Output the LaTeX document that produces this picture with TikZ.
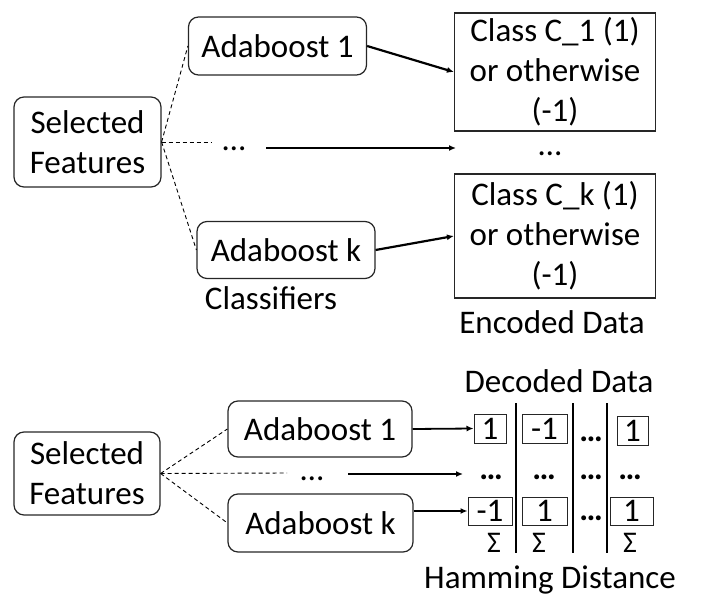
\documentclass[tikz,border=0pt]{standalone}
\usepackage{fontspec}
\setmainfont{Carlito}
\usetikzlibrary{arrows.meta}
\newcommand{\bigf}{\fontsize{33}{40}\selectfont}
\newcommand{\sigf}{\fontsize{30}{32}\selectfont}
\begin{document}
\begin{tikzpicture}[x=1pt,y=-1pt,
  rbox/.style={draw=black!85, rounded corners=10pt, line width=1.2pt, align=center, inner sep=0pt, font=\bigf},
  sbox/.style={draw=black!85, line width=1.2pt, align=center, inner sep=0pt, font=\bigf},
  nbox/.style={draw=black!85, line width=1pt, inner sep=0pt, font=\bigf},
  lbl/.style={inner sep=0pt, font=\bigf},
  ldots/.style={inner sep=0pt, font=\bigf, anchor=base},
  dashline/.style={draw, line width=0.9pt, dash pattern=on 4pt off 3pt},
  arr/.style={draw, line width=2.2pt, -{Latex[length=7pt,width=6pt]}},
  bdots/.style={inner sep=0pt, font=\bigf\bfseries, anchor=base},
  sig/.style={inner sep=0pt, font=\sigf}]
\useasboundingbox (0,0) rectangle (706,601);
% ---------- top part ----------
\node[rbox, minimum width=147pt, minimum height=90pt] (sf1) at (87.5,142) {Selected\\Features};
\node[rbox, minimum width=178pt, minimum height=58pt] (ada1) at (277.5,46) {Adaboost 1};
\node[rbox, minimum width=178pt, minimum height=57pt] (adak) at (286,250) {Adaboost k};
\node[sbox, minimum width=201pt, minimum height=118pt] (c1) at (555,72) {Class C\_1 (1)\\or otherwise\\(-1)};
\node[sbox, minimum width=201pt, minimum height=124pt] (ck) at (555,236) {Class C\_k (1)\\or otherwise\\(-1)};
\node[ldots] (dA) at (234,151) {…};
\node[ldots] (dB) at (550,156) {…};
\coordinate (hA) at (211,142);
\coordinate (aS) at (266,148);
\coordinate (aE) at (456,148);
\node[lbl] (cls) at (271,298) {Classifiers};
\node[lbl] (enc) at (552,322) {Encoded Data};
\draw[dashline] (sf1.east) -- (ada1.west);
\draw[dashline] (sf1.east) -- (adak.west);
\draw[dashline] (sf1.east) -- (hA);
\draw[arr] (ada1.east) -- (c1.west);
\draw[arr] (adak.east) -- (ck.west);
\draw[arr] (aS) -- (aE);
% ---------- bottom part ----------
\node[lbl] (dec) at (559,381) {Decoded Data};
\node[rbox, minimum width=146pt, minimum height=83pt] (sf2) at (87,473.5) {Selected\\Features};
\node[rbox, minimum width=184pt, minimum height=56pt] (ada1b) at (320,429) {Adaboost 1};
\node[rbox, minimum width=185pt, minimum height=58pt] (adakb) at (320.5,523) {Adaboost k};
\coordinate (hB) at (287,473);
\node[ldots] (dC) at (312,480) {…};
\coordinate (bS) at (348,474);
\coordinate (bE) at (463,474);
\draw[dashline] (sf2.east) -- (ada1b.west);
\draw[dashline] (sf2.east) -- (adakb.west);
\draw[dashline] (sf2.east) -- (hB);
% row 1
\node[nbox, minimum width=32pt, minimum height=29pt] (b11) at (490,428.5) {1};
\node[nbox, minimum width=45pt, minimum height=29pt] (b12) at (544.5,428.5) {-1};
\node[bdots] (b13) at (591,441) {…};
\node[nbox, minimum width=31pt, minimum height=29pt] (b14) at (632.5,430.5) {1};
% row 2
\node[bdots] (b21) at (491,479) {…};
\node[bdots] (b22) at (544,479) {…};
\node[bdots] (b23) at (591,479) {…};
\node[bdots] (b24) at (630,479) {…};
% row 3
\node[nbox, minimum width=44pt, minimum height=28pt] (b31) at (490,511) {-1};
\node[nbox, minimum width=45pt, minimum height=28pt] (b32) at (544.5,511) {1};
\node[bdots] (b33) at (591,520) {…};
\node[nbox, minimum width=43pt, minimum height=28pt] (b34) at (631.5,511) {1};
% sigma
\node[sig] (s1) at (494,543) {Σ};
\node[sig] (s2) at (539,543) {Σ};
\node[sig] (s4) at (630,543) {Σ};
% separators
\coordinate (v1t) at (516,403); \coordinate (v1b) at (516,553);
\coordinate (v2t) at (573,403); \coordinate (v2b) at (573,553);
\coordinate (v3t) at (607,403); \coordinate (v3b) at (607,553);
\draw[line width=1.3pt] (v1t) -- (v1b);
\draw[line width=1.3pt] (v2t) -- (v2b);
\draw[line width=1.3pt] (v3t) -- (v3b);
\node[lbl] (ham) at (550,580) {Hamming Distance};
\draw[arr, line width=1.8pt] (ada1b.east) -- (b11.west);
\draw[arr, line width=1.8pt] (adakb.east |- b31.west) -- (b31.west);
\draw[arr, line width=1.8pt] (bS) -- (bE);
\end{tikzpicture}
\end{document}
